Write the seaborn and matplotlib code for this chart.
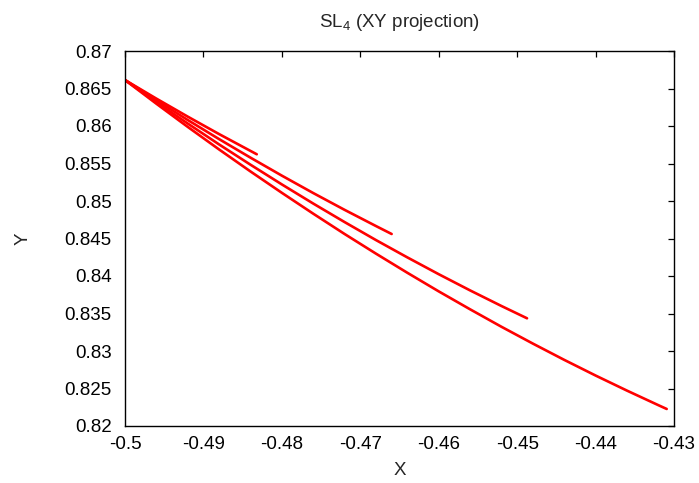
import numpy as np
import pandas as pd
import matplotlib
matplotlib.use("Agg")
import matplotlib.pyplot as plt
from matplotlib.ticker import FixedLocator, FuncFormatter
import seaborn as sns

# ---- data ----
c1_x = [-0.5, -0.496, -0.492, -0.488, -0.4832]
c1_y = [0.86613, 0.86365, 0.86125, 0.85892, 0.85623]

c2_x = [-0.5, -0.496, -0.492, -0.488, -0.484, -0.48, -0.476, -0.472, -0.468, -0.466]
c2_y = [0.86613, 0.86343, 0.8608, 0.85825, 0.85578, 0.85338, 0.85106, 0.84882,
        0.84666, 0.8456]

c3_x = [-0.5, -0.496, -0.492, -0.488, -0.484, -0.48, -0.476, -0.472, -0.468,
        -0.464, -0.46, -0.456, -0.452, -0.44874]
c3_y = [0.86613, 0.86319, 0.86033, 0.85754, 0.85484, 0.85221, 0.84966, 0.84719,
        0.84479, 0.84248, 0.84024, 0.83808, 0.836, 0.83436]

c4_x = [-0.5, -0.496, -0.492, -0.488, -0.484, -0.48, -0.476, -0.472, -0.468,
        -0.464, -0.46, -0.456, -0.452, -0.448, -0.444, -0.44, -0.436, -0.432,
        -0.43093]
c4_y = [0.86613, 0.86297, 0.85988, 0.85687, 0.85394, 0.85109, 0.84831, 0.8456,
        0.84298, 0.84043, 0.83795, 0.83556, 0.83323, 0.83099, 0.82882, 0.82673,
        0.82472, 0.82278, 0.82227]

xticks = [-0.5, -0.49, -0.48, -0.47, -0.46, -0.45, -0.44, -0.43]
yticks = [0.82, 0.825, 0.83, 0.835, 0.84, 0.845, 0.85, 0.855, 0.86, 0.865, 0.87]

title = "SL$_4$ (XY projection)"
xlabel = "X"
ylabel = "Y"

frames = []
for name, xs, ys in [("c1", c1_x, c1_y), ("c2", c2_x, c2_y),
                     ("c3", c3_x, c3_y), ("c4", c4_x, c4_y)]:
    frames.append(pd.DataFrame({"x": xs, "y": ys, "curve": name}))
df = pd.concat(frames, ignore_index=True)

sns.set_theme(style="white")
plt.rcParams["font.family"] = ["Liberation Sans", "DejaVu Sans"]
plt.rcParams["axes.unicode_minus"] = False
plt.rcParams["mathtext.fontset"] = "custom"
plt.rcParams["mathtext.rm"] = "Liberation Sans"

fig = plt.figure(figsize=(6.99, 4.83), dpi=100)
ax = fig.add_axes([125 / 699, 1 - 426 / 483, (674 - 125) / 699, (426 - 51) / 483])

sns.lineplot(data=df, x="x", y="y", hue="curve",
             palette=["#ff0000"] * 4, estimator=None, sort=False,
             legend=False, linewidth=1.9, ax=ax)

ax.set_xlim(xticks[0], xticks[-1])
ax.set_ylim(yticks[0], yticks[-1])
ax.xaxis.set_major_locator(FixedLocator(xticks))
ax.yaxis.set_major_locator(FixedLocator(yticks))
fmt = FuncFormatter(lambda v, p: "%g" % round(v, 4))
ax.xaxis.set_major_formatter(fmt)
ax.yaxis.set_major_formatter(fmt)

ax.tick_params(axis="both", which="major", direction="in", length=4.5,
               width=0.9, colors="black", labelsize=13.5,
               top=True, right=True)
ax.tick_params(axis="x", pad=7)
ax.tick_params(axis="y", pad=9.5)
for s in ax.spines.values():
    s.set_visible(True)
    s.set_color("black")
    s.set_linewidth(1.0)

ax.set_title(title, fontsize=13.5, pad=17)
ax.set_xlabel(xlabel, fontsize=13.5, labelpad=7)
ax.set_ylabel(ylabel, fontsize=13.5, labelpad=24)

fig.savefig("out.png", dpi=100)
